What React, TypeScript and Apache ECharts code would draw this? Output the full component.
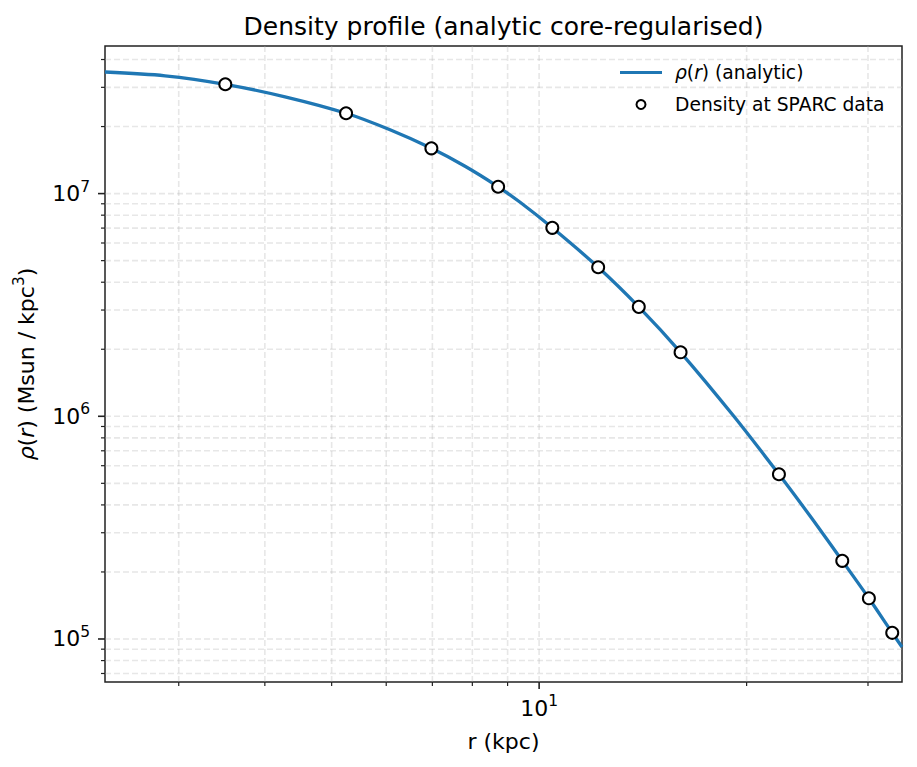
import React, { useEffect, useRef } from "react";
import * as echarts from "echarts";

// ---- data ----
const curveR = [2.345, 2.866, 3.505, 4.279, 5.247, 6.077, 6.977, 7.808, 8.72, 9.385, 10.45, 12.18, 13.95, 16.04, 19.14, 22.28, 24.74, 27.53, 30.09, 32.53, 33.61];
const curveRho = [3.516e7, 3.381e7, 3.096e7, 2.72e7, 2.294e7, 1.934e7, 1.597e7, 1.326e7, 1.073e7, 9.14e6, 7.02e6, 4.67e6, 3.1e6, 1.938e6, 1.005e6, 5.49e5, 3.556e5, 2.244e5, 1.523e5, 1.066e5, 9.21e4];

const sparcR = [3.505, 5.247, 6.977, 8.72, 10.45, 12.18, 13.95, 16.04, 22.28, 27.53, 30.09, 32.53];
const sparcRho = [3.096e7, 2.294e7, 1.597e7, 1.073e7, 7.02e6, 4.67e6, 3.1e6, 1.938e6, 5.49e5, 2.244e5, 1.523e5, 1.066e5];

const X_MIN = 2.345;
const X_MAX = 33.61;
const Y_MIN = 6.41e4;
const Y_MAX = 4.6e7;

const xMajorTicks = [10];
const xMinorTicks = [3, 4, 5, 6, 7, 8, 9, 20, 30];
const yMajorTicks = [1e5, 1e6, 1e7];
const yMinorTicks = [7e4, 8e4, 9e4, 2e5, 3e5, 4e5, 5e5, 6e5, 7e5, 8e5, 9e5, 2e6, 3e6, 4e6, 5e6, 6e6, 7e6, 8e6, 9e6, 2e7, 3e7, 4e7];

const TITLE = "Density profile (analytic core-regularised)";
const X_NAME = "r (kpc)";
const LINE_NAME = "ρ(r) (analytic)";
const SCATTER_NAME = "Density at SPARC data";

const FONT = "DejaVu Sans";

function isPow10(v: number) {
  const l = Math.log10(v);
  return Math.abs(l - Math.round(l)) < 1e-6;
}

export default function App() {
  const ref = useRef<HTMLDivElement>(null);

  useEffect(() => {
    if (!ref.current) return;
    const chart = echarts.init(ref.current, null, { renderer: "svg" });

    const gridStyle = { stroke: "#b0b0b0", opacity: 0.3, lineWidth: 1.6, lineDash: [6, 3] };

    const xTickData = [
      ...xMajorTicks.map((v) => [v, Y_MIN, 1]),
      ...xMinorTicks.map((v) => [v, Y_MIN, 0]),
    ];
    const yTickData = [
      ...yMajorTicks.map((v) => [X_MIN, v, 1]),
      ...yMinorTicks.map((v) => [X_MIN, v, 0]),
    ];

    const labelRich = {
      b: { fontSize: 22, lineHeight: 30, fontFamily: FONT, color: "#000" },
      s: { fontSize: 15.5, lineHeight: 15.5, verticalAlign: "top", fontFamily: FONT, color: "#000" },
    };

    const option: any = {
      animation: false,
      backgroundColor: "#fff",
      title: {
        text: TITLE,
        left: 503.5,
        top: 14,
        padding: 0,
        textAlign: "center",
        textStyle: { fontFamily: FONT, fontSize: 25, fontWeight: "normal", color: "#000" },
      },
      grid: {
        left: 105,
        right: 15,
        top: 46,
        bottom: 85,
        show: true,
        borderColor: "#222",
        borderWidth: 1.5,
        backgroundColor: "transparent",
      },
      legend: {
        orient: "vertical",
        left: 620,
        top: 63,
        padding: 0,
        itemWidth: 42,
        itemHeight: 9,
        itemGap: 13,
        data: [
          { name: LINE_NAME, icon: "path://M0 0H42V3H0Z", itemStyle: { color: "#1f77b4" } },
          { name: SCATTER_NAME },
        ],
        formatter: (name: string) =>
          name === LINE_NAME ? "{i|ρ}({i|r}) (analytic)" : name,
        textStyle: {
          fontFamily: FONT,
          fontSize: 18.7,
          color: "#000",
          padding: [0, 0, 0, 8],
          rich: {
            i: { fontFamily: FONT, fontSize: 18.7, fontStyle: "italic", color: "#000" },
          },
        },
      },
      xAxis: {
        type: "log",
        logBase: 10,
        min: X_MIN,
        max: X_MAX,
        name: X_NAME,
        nameLocation: "middle",
        nameGap: 48,
        nameTextStyle: { fontFamily: FONT, fontSize: 22, color: "#000" },
        axisLine: { show: false },
        axisTick: { show: false },
        splitLine: { show: false },
        minorTick: { show: false },
        axisLabel: {
          margin: 11,
          formatter: (v: number) =>
            isPow10(v) ? `{b|10}{s|${Math.round(Math.log10(v))}}` : "",
          rich: labelRich,
        },
      },
      yAxis: {
        type: "log",
        logBase: 10,
        min: Y_MIN,
        max: Y_MAX,
        name: "{i|ρ}({i|r}) (Msun / kpc{s|3})",
        nameLocation: "middle",
        nameRotate: 90,
        nameGap: 58,
        nameTextStyle: {
          fontFamily: FONT,
          fontSize: 22,
          lineHeight: 30,
          color: "#000",
          rich: {
            i: { fontFamily: FONT, fontSize: 22, lineHeight: 30, fontStyle: "italic", color: "#000" },
            s: { fontFamily: FONT, fontSize: 15.5, lineHeight: 15.5, verticalAlign: "top", color: "#000" },
          },
        },
        axisLine: { show: false },
        axisTick: { show: false },
        splitLine: { show: false },
        axisLabel: {
          margin: 15,
          formatter: (v: number) =>
            isPow10(v) ? `{b|10}{s|${Math.round(Math.log10(v))}}` : "",
          rich: labelRich,
        },
      },
      series: [
        {
          type: "custom",
          name: "xgrid",
          clip: false,
          silent: true,
          z: 1,
          data: xTickData,
          renderItem: (params: any, api: any) => {
            const v = api.value(0);
            const major = api.value(2) === 1;
            const pb = api.coord([v, Y_MIN]);
            const pt = api.coord([v, Y_MAX]);
            return {
              type: "group",
              children: [
                { type: "line", shape: { x1: pb[0], y1: pb[1], x2: pt[0], y2: pt[1] }, style: gridStyle },
                {
                  type: "line",
                  shape: { x1: pb[0], y1: pb[1], x2: pb[0], y2: pb[1] + (major ? 7 : 4) },
                  style: { stroke: "#222", lineWidth: major ? 1.6 : 1.2 },
                },
              ],
            };
          },
        },
        {
          type: "custom",
          name: "ygrid",
          clip: false,
          silent: true,
          z: 1,
          data: yTickData,
          renderItem: (params: any, api: any) => {
            const v = api.value(1);
            const major = api.value(2) === 1;
            const pl = api.coord([X_MIN, v]);
            const pr = api.coord([X_MAX, v]);
            return {
              type: "group",
              children: [
                { type: "line", shape: { x1: pl[0], y1: pl[1], x2: pr[0], y2: pr[1] }, style: gridStyle },
                {
                  type: "line",
                  shape: { x1: pl[0] - (major ? 7 : 4), y1: pl[1], x2: pl[0], y2: pl[1] },
                  style: { stroke: "#222", lineWidth: major ? 1.6 : 1.2 },
                },
              ],
            };
          },
        },
        {
          type: "line",
          name: LINE_NAME,
          data: curveR.map((r, i) => [r, curveRho[i]]),
          symbol: "none",
          smooth: 0.3,
          z: 3,
          lineStyle: { color: "#1f77b4", width: 3.3 },
          itemStyle: { color: "#1f77b4" },
        },
        {
          type: "scatter",
          name: SCATTER_NAME,
          data: sparcR.map((r, i) => [r, sparcRho[i]]),
          symbol: "circle",
          symbolSize: 12,
          z: 4,
          itemStyle: { color: "#fff", borderColor: "#000", borderWidth: 2, opacity: 1 },
        },
      ],
    };

    chart.setOption(option);
    return () => chart.dispose();
  }, []);

  return (
    <div
      ref={ref}
      style={{ position: "absolute", left: 0, top: 0, width: 917, height: 767 }}
    />
  );
}
